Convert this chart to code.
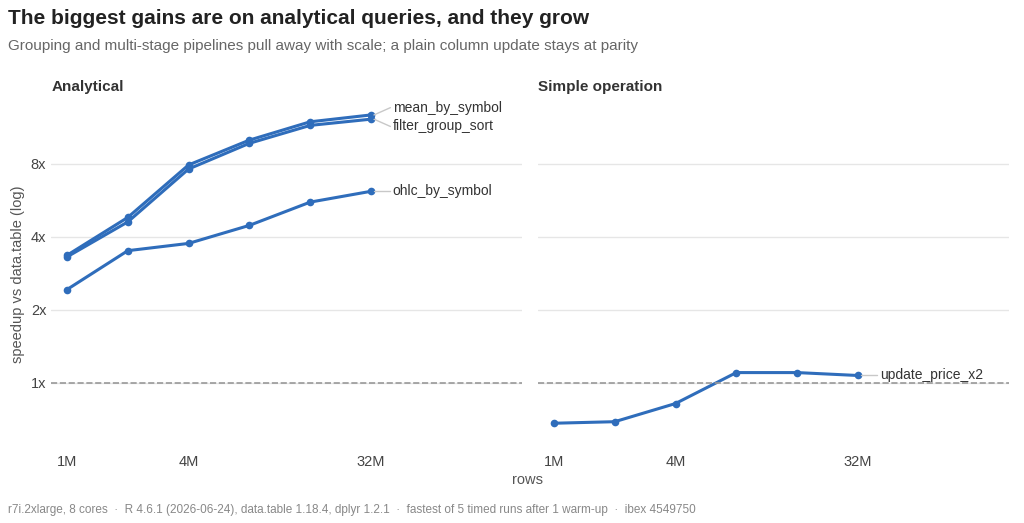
import numpy as np, pandas as pd, seaborn as sns, matplotlib.pyplot as plt

rows_m = [1, 2, 4, 8, 16, 32]
mean_by_symbol = [3.35, 4.8, 7.9, 10.0, 11.9, 12.7]
filter_group_sort = [3.3, 4.6, 7.6, 9.7, 11.5, 12.2]
ohlc_by_symbol = [2.42, 3.5, 3.75, 4.45, 5.55, 6.15]
update_price_x2 = [0.68, 0.69, 0.82, 1.1, 1.1, 1.07]

recs = []
for name, vals, panel in [("mean_by_symbol", mean_by_symbol, "Analytical"),
                          ("filter_group_sort", filter_group_sort, "Analytical"),
                          ("ohlc_by_symbol", ohlc_by_symbol, "Analytical"),
                          ("update_price_x2", update_price_x2, "Simple operation")]:
    for r, v in zip(rows_m, vals):
        recs.append(dict(query=name, panel=panel, lx=np.log2(r), ly=np.log2(v)))
df = pd.DataFrame(recs)

sns.set_theme(style="white")
plt.rcParams['font.family'] = ['Liberation Sans', 'DejaVu Sans']
fig, axes = plt.subplots(1, 2, figsize=(10.24, 5.23), dpi=100, sharey=True)
fig.subplots_adjust(left=0.05, right=0.985, top=0.81, bottom=0.14, wspace=0.035)
blue = "#2f6dbb"
label_off = {"mean_by_symbol": 0.1, "filter_group_sort": -0.1, "ohlc_by_symbol": 0.0, "update_price_x2": 0.0}
for ax, panel in zip(axes, ["Analytical", "Simple operation"]):
    sub = df[df.panel == panel]
    for q, g in sub.groupby("query"):
        sns.lineplot(data=g, x="lx", y="ly", ax=ax, color=blue, lw=2.2, marker="o",
                     markersize=5.5, markeredgewidth=0, legend=False)
        x0, y0 = g.lx.iloc[-1], g.ly.iloc[-1]
        ty = y0 + label_off[q]
        ax.plot([x0 + 0.05, x0 + 0.32], [y0, ty], color="#c8c8c8", lw=1)
        ax.text(x0 + 0.36, ty, q, va="center", fontsize=10, color="#333333")
    ax.axhline(0, color="#999999", ls="--", lw=1.2)
    ax.set_xlim(-0.26, 7.48)
    ax.set_ylim(-0.92, 3.88)
    ax.set_xticks([0, 2, 5]); ax.set_xticklabels(["1M", "4M", "32M"])
    ax.set_yticks([0, 1, 2, 3]); ax.set_yticklabels(["1x", "2x", "4x", "8x"])
    ax.grid(axis="y", color="#e6e6e6", lw=1)
    ax.grid(axis="x", visible=False)
    for s in ax.spines.values(): s.set_visible(False)
    ax.tick_params(length=0, labelsize=10.5, colors="#444444")
    ax.set_xlabel(""); ax.set_ylabel("")
    ax.set_title(panel, loc="left", fontsize=11, fontweight="bold", color="#333333", pad=6)
axes[0].set_ylabel("speedup vs data.table (log)", fontsize=10.5, color="#555555")
fig.text(0.515, 0.075, "rows", ha="center", fontsize=10.5, color="#555555")
fig.text(0.008, 0.955, "The biggest gains are on analytical queries, and they grow",
         fontsize=15, fontweight="bold", color="#222222")
fig.text(0.008, 0.905, "Grouping and multi-stage pipelines pull away with scale; a plain column update stays at parity",
         fontsize=11, color="#666666")
fig.text(0.008, 0.02, "r7i.2xlarge, 8 cores  ·  R 4.6.1 (2026-06-24), data.table 1.18.4, dplyr 1.2.1  ·  fastest of 5 timed runs after 1 warm-up  ·  ibex 4549750",
         fontsize=8.5, color="#888888")
fig.savefig("out.png", dpi=100, facecolor="white")
